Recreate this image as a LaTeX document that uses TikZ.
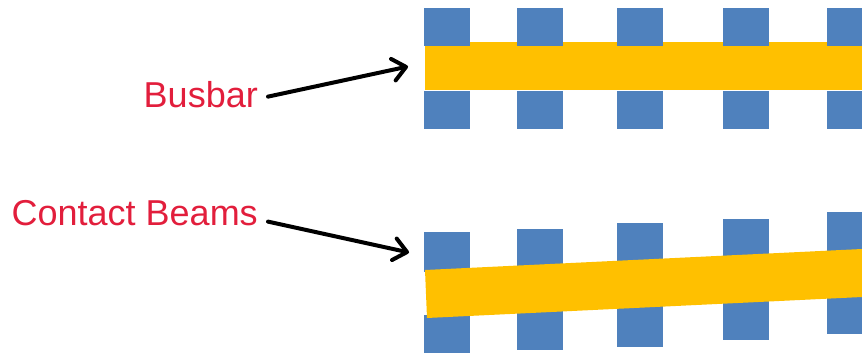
\documentclass[tikz,border=0pt]{standalone}
\usepackage{fontspec}
\setmainfont{Liberation Sans}
\usetikzlibrary{arrows.meta}
\definecolor{pinred}{RGB}{226,30,60}
\definecolor{pinblue}{RGB}{79,129,189}
\definecolor{baryellow}{RGB}{255,192,0}
\begin{document}
\begin{tikzpicture}[x=1pt,y=-1pt,
  pin/.style={fill=pinblue,draw=none},
  bar/.style={fill=baryellow,draw=none},
  lbl/.style={text=pinred,font=\fontsize{36pt}{40pt}\selectfont,inner sep=0pt,anchor=base east},
  arr/.style={draw=black,line width=4pt,line cap=round,-{Straight Barb[length=13pt,width=22pt,line width=4pt,round]}}]
\useasboundingbox (0,0) rectangle (862,353);
% group 1: busbar
\fill[bar] (425,42) rectangle (862,90);
\foreach \x in {424,517,617,723,827} {
  \fill[pin] (\x,8) rectangle (\x+46,46);
  \fill[pin] (\x,91) rectangle (\x+46,129);
}
% group 2: contact beams
\fill[pin] (424,232) rectangle (470,272);
\fill[pin] (517,229) rectangle (563,270);
\fill[pin] (617,223) rectangle (663,264);
\fill[pin] (723,219) rectangle (769,259);
\fill[pin] (827,212) rectangle (862,254);
\fill[pin] (424,315) rectangle (470,353);
\fill[pin] (517,310) rectangle (563,350);
\fill[pin] (617,306) rectangle (663,347);
\fill[pin] (723,300) rectangle (769,340);
\fill[pin] (827,294) rectangle (862,334);
\fill[bar] (425,270) -- (862,249) -- (862,297) -- (427,318) -- cycle;
% labels
\node[lbl] (busbar) at (258,107.5) {Busbar};
\node[lbl] (beams) at (258,225) {Contact Beams};
\coordinate (tipA) at (408,66.5);
\coordinate (tipB) at (409,252.5);
\draw[arr] ([xshift=10pt,yshift=-2pt]busbar.east) -- (tipA);
\draw[arr] ([xshift=10pt,yshift=-9pt]beams.east) -- (tipB);
\end{tikzpicture}
\end{document}
